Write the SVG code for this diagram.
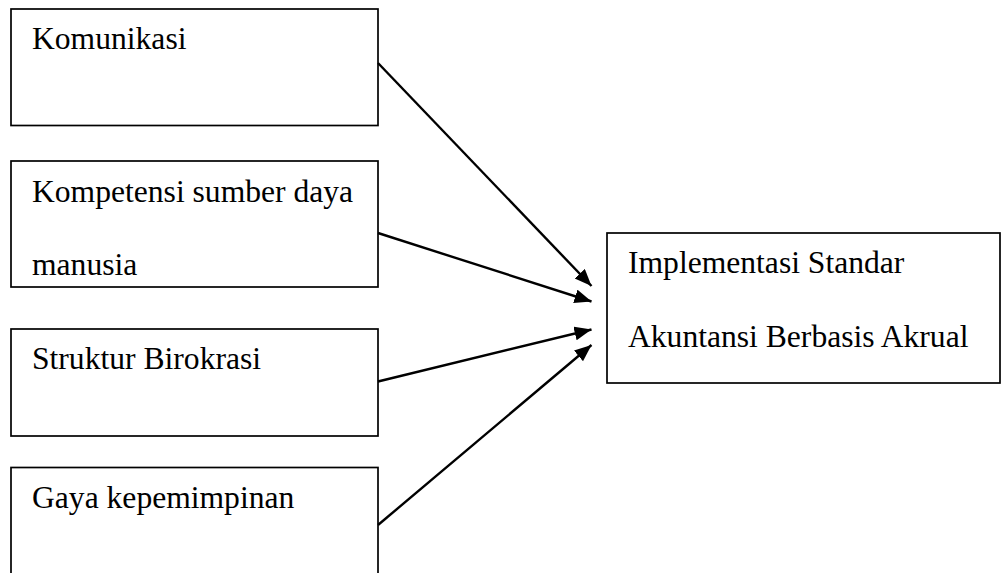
<svg xmlns="http://www.w3.org/2000/svg" width="1006" height="573" viewBox="0 0 1006 573">
<style>
.box{fill:#fff;stroke:#000;stroke-width:1.7}
.t{font-family:"Liberation Serif","Times New Roman",serif;font-size:31.6px;fill:#000}
.c{stroke:#000;stroke-width:2.4;fill:none;marker-end:url(#ah)}
</style>
<defs>
<marker id="ah" markerUnits="userSpaceOnUse" markerWidth="18" markerHeight="15" refX="17" refY="7" orient="auto">
<path d="M0,0 L17,7 L0,14 z" fill="#000"/>
</marker>
</defs>
<rect width="1006" height="573" fill="#fff"/>
<g id="n1"><rect class="box" x="11" y="9" width="367" height="116.5"/><text class="t" x="32" y="49.3">Komunikasi</text></g>
<g id="n2"><rect class="box" x="11" y="161" width="367" height="126"/><text class="t" x="32" y="201.7">Kompetensi sumber daya</text><text class="t" x="32" y="275">manusia</text></g>
<g id="n3"><rect class="box" x="11" y="329" width="367" height="107"/><text class="t" x="32" y="369">Struktur Birokrasi</text></g>
<g id="n4"><rect class="box" x="11" y="467.5" width="367" height="120"/><text class="t" x="32" y="508.3">Gaya kepemimpinan</text></g>
<g id="n5"><rect class="box" x="607" y="233" width="393" height="150"/><text class="t" x="628" y="273.3">Implementasi Standar</text><text class="t" x="628" y="346.7">Akuntansi Berbasis Akrual</text></g>
<g id="connectors">
<line class="c" x1="378" y1="63" x2="591.5" y2="286"/>
<line class="c" x1="378" y1="233" x2="591.5" y2="301.5"/>
<line class="c" x1="378" y1="381.5" x2="591.5" y2="329.5"/>
<line class="c" x1="378" y1="525" x2="591.5" y2="345"/>
</g>
</svg>
